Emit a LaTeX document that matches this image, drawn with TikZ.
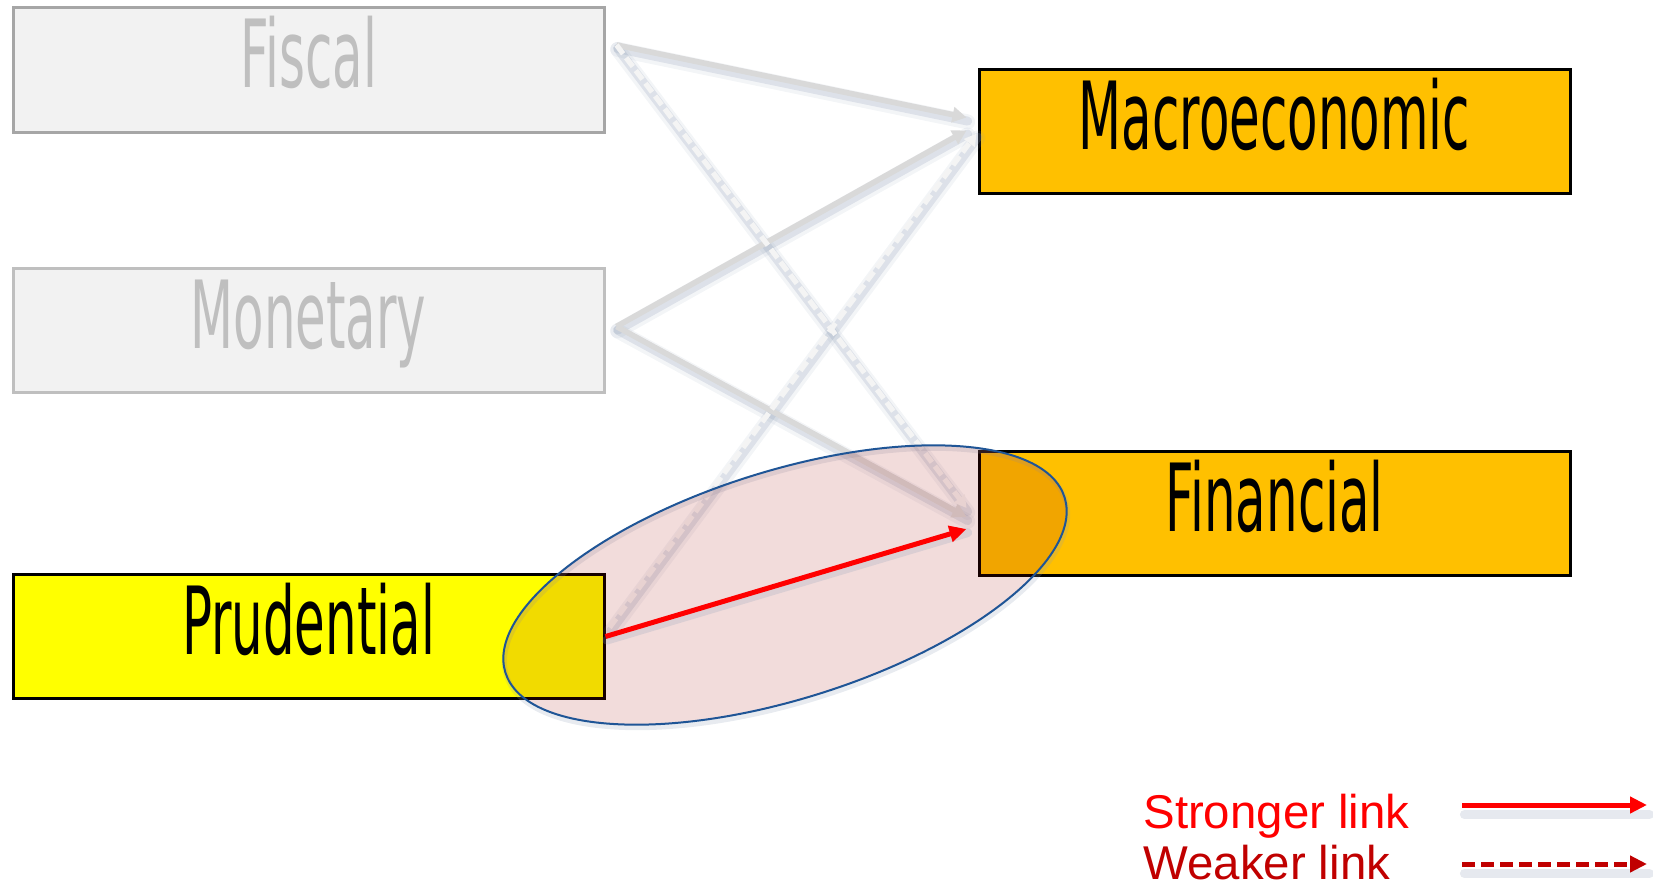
\documentclass[tikz,border=0pt]{standalone}
\usepackage{fontspec}
\usepackage{graphicx}
\usetikzlibrary{arrows.meta,calc,shapes.geometric}
\newfontfamily\handfont[FakeStretch=0.53]{DejaVu Sans}
\newfontfamily\legendfont{Liberation Sans}

\definecolor{boxgray}{HTML}{F2F2F2}
\definecolor{bordergray}{HTML}{A6A6A6}
\definecolor{bordergrayb}{HTML}{BFBFBF}
\definecolor{textgray}{HTML}{BFBFBF}
\definecolor{macroorange}{HTML}{FFC000}
\definecolor{prudyellow}{HTML}{FFFF00}
\definecolor{linkgray}{HTML}{D9D9D9}
\definecolor{dashgray}{HTML}{F4F4F4}
\definecolor{shadowblue}{HTML}{8C9CB4}
\definecolor{ellfill}{RGB}{162,5,0}
\definecolor{ellborder}{RGB}{31,85,150}
\definecolor{strongred}{HTML}{FF0000}
\definecolor{weakred}{HTML}{C00000}

\begin{document}
\begin{tikzpicture}[x=0.5pt,y=-0.5pt,
  handtext/.style={font=\handfont\fontsize{47}{47}\selectfont, text height=24pt, text depth=6pt},
  policybox/.style={handtext, draw, line width=1.5pt, minimum width=295.5pt, minimum height=62pt, inner sep=0pt},
  greybox/.style={policybox, fill=boxgray, text=textgray},
  targetbox/.style={policybox, draw=black, fill=macroorange, text=black},
  prudbox/.style={policybox, draw=black, fill=prudyellow, text=black},
  softshadow/.style={draw=shadowblue, line cap=round, opacity=0.22, line width=4.5pt, transform canvas={shift={(0.6pt,-1.8pt)}}},
  softshadowwide/.style={draw=shadowblue, line cap=round, opacity=0.1, line width=7.5pt, transform canvas={shift={(0.6pt,-2.2pt)}}},
  greylink/.style={draw=linkgray, line width=2.8pt, -{Triangle[length=7pt,width=7.5pt]}},
  greydash/.style={draw=dashgray, line width=2.6pt, dash pattern=on 5.5pt off 2.5pt, -{Triangle[length=6pt,width=6.5pt]}},
  stronglink/.style={draw=strongred, line width=2.5pt, -{Triangle[length=8.5pt,width=8pt]}},
  weaklink/.style={draw=weakred, line width=2.5pt, dash pattern=on 6.5pt off 3pt, -{Triangle[length=8.5pt,width=8pt]}},
  legendtext/.style={font=\legendfont\fontsize{23.7}{24}\selectfont, anchor=base west, inner sep=0pt},
  focusring/.style={ellipse, rotate=17.4, minimum width=293pt, minimum height=114pt, inner sep=0pt}
]
\useasboundingbox (0,0) rectangle (1653,888);

% boxes
\node[greybox, draw=bordergray] (fiscal) at (308.5,70) {Fiscal};
\node[greybox, draw=bordergrayb] (monetary) at (308.5,330.5) {Monetary};
\node[prudbox] (prudential) at (308.5,636.5) {Prudential};
\node[targetbox] (macro) at (1274.5,131.5) {Macroeconomic};
\node[targetbox] (financial) at (1274.5,513) {Financial};

% connector end points
\coordinate (fs) at ($(fiscal.east)+(11,-25)$);
\coordinate (ms) at ($(monetary.east)+(11,-4)$);
\coordinate (ps) at ($(prudential.east)+(4,-9)$);
\coordinate (macin1) at ($(macro.west)+(-11,-14)$);
\coordinate (macin2) at ($(macro.west)+(-11,-1)$);
\coordinate (macin3) at ($(macro.west)+(-1,2)$);
\coordinate (finin1) at ($(financial.west)+(-11,-5)$);
\coordinate (finin2) at ($(financial.west)+(-11,4)$);
\coordinate (finin3) at ($(financial.west)+(-11,16)$);

% shadows of grey links
\foreach \a/\b in {fs/macin1, fs/finin1, ms/macin2, ms/finin2, ps/macin3}{
  \path[softshadowwide] (\a) -- (\b);
  \path[softshadow] (\a) -- (\b);
}
% grey links
\draw[greylink] (fs) -- (macin1);
\draw[greylink] (ms) -- (macin2);
\draw[greylink] (ms) -- (finin2);
\draw[greydash] (fs) -- (finin1);
\draw[greydash] (ps) -- (macin3);

% highlighted ellipse
\node[focusring, draw=shadowblue, opacity=0.2, line width=2.5pt] (focusshadow) at (786,588) {};
\node[focusring, fill=ellfill, fill opacity=0.14, draw=ellborder, line width=1pt] (focus) at (785,585) {};

% strong link
\path[softshadow] (prudential.east) -- (finin3);
\draw[stronglink] (prudential.east) -- (finin3);

% legend
\node[legendtext, text=strongred] (strong) at (1143,828) {Stronger link};
\node[legendtext, text=weakred] (weak) at (1143,879) {Weaker link};
\coordinate (sa) at (1462,805);
\coordinate (sb) at (1647,805);
\coordinate (wa) at (1462,864);
\coordinate (wb) at (1647,864);
\path[softshadow, transform canvas={shift={(0.6pt,-3pt)}}] (sa) -- (sb);
\path[softshadow, transform canvas={shift={(0.6pt,-3pt)}}] (wa) -- (wb);
\draw[stronglink] (sa) -- (sb);
\draw[weaklink] (wa) -- (wb);
\end{tikzpicture}
\end{document}
